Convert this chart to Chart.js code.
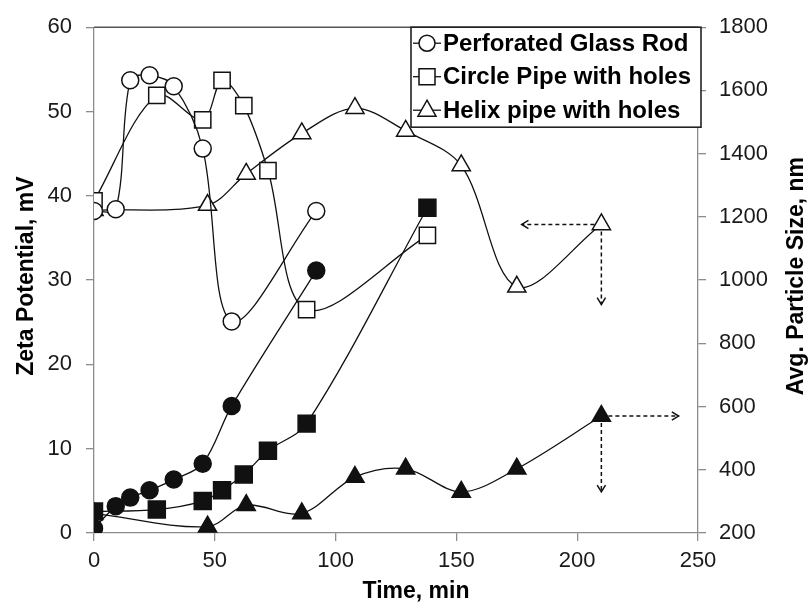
<!DOCTYPE html>
<html>
<head>
<meta charset="utf-8">
<script src="https://cdn.jsdelivr.net/npm/chart.js@4.4.0/dist/chart.umd.min.js"></script>
<style>
  body { margin: 0; background: #fff; }
</style>
</head>
<body>
<canvas id="zeta-chart" width="811" height="605"></canvas>
<script>
// sampling times (min) for each mixer type
const glassTime = [0, 9, 15, 23, 33, 45, 57, 92];
const pipeTime = [0, 26, 45, 53, 62, 72, 88, 138];
const helixTime = [0, 47, 63, 86, 108, 129, 152, 175, 210];

// zeta potential, mV (open markers, left axis)
const glassZeta = [38.2, 38.4, 53.7, 54.3, 53.0, 45.6, 25.1, 38.2];
const pipeZeta = [39.4, 51.9, 49.0, 53.7, 50.7, 43.0, 26.5, 35.3];
const helixZeta = [38.3, 38.9, 42.6, 47.4, 50.4, 47.7, 43.6, 29.2, 36.6];

// average particle size, nm (filled markers, right axis)
const glassSize = [215, 285, 312, 335, 369, 419, 602, 1030];
const pipeSize = [268, 274, 301, 335, 385, 460, 546, 1229];
const helixSize = [262, 220, 288, 262, 377, 403, 330, 403, 570];

const seriesNames = ["Perforated Glass Rod", "Circle Pipe with holes", "Helix pipe with holes"];

// axis ticks
const timeTicks = [0, 50, 100, 150, 200, 250];
const zetaTicks = [0, 10, 20, 30, 40, 50, 60];
const sizeTicks = [200, 400, 600, 800, 1000, 1200, 1400, 1600, 1800];

// dashed pointers for the last helix readings: [time, value, arrow end time, arrow end value]
const zetaPointer = [210, 36.6, 177, 27.1];
const sizePointer = [210, 570, 242, 330];

const ink = "#111";
const fontFamily = "'Liberation Sans', Arial, sans-serif";

function pts(times, values) {
  return times.map((t, i) => ({ x: t, y: values[i] }));
}

function series(label, times, values, axis, style, filled, radius) {
  return {
    label: label,
    data: pts(times, values),
    yAxisID: axis,
    borderColor: ink,
    borderWidth: 1.3,
    tension: 0.33,
    pointStyle: style,
    pointRadius: radius,
    pointHoverRadius: radius,
    pointBorderWidth: 1.5,
    pointBorderColor: ink,
    pointBackgroundColor: filled ? ink : "#fff",
    fill: false,
  };
}

function dashedArrow(ctx, x1, y1, x2, y2) {
  ctx.save();
  ctx.strokeStyle = ink;
  ctx.lineWidth = 1.5;
  ctx.setLineDash([4, 3]);
  ctx.beginPath();
  ctx.moveTo(x1, y1);
  ctx.lineTo(x2, y2);
  ctx.stroke();
  ctx.setLineDash([]);
  const a = Math.atan2(y2 - y1, x2 - x1);
  ctx.beginPath();
  ctx.moveTo(x2 - 8 * Math.cos(a - 0.55), y2 - 8 * Math.sin(a - 0.55));
  ctx.lineTo(x2, y2);
  ctx.lineTo(x2 - 8 * Math.cos(a + 0.55), y2 - 8 * Math.sin(a + 0.55));
  ctx.stroke();
  ctx.restore();
}

const pointers = {
  id: "pointers",
  beforeDatasetsDraw(chart) {
    const ctx = chart.ctx;
    const sx = chart.scales.x;
    [[zetaPointer, chart.scales.y], [sizePointer, chart.scales.y2]].forEach(([p, sy]) => {
      const x = sx.getPixelForValue(p[0]);
      const y = sy.getPixelForValue(p[1]);
      dashedArrow(ctx, x, y, sx.getPixelForValue(p[2]), y);
      dashedArrow(ctx, x, y, x, sy.getPixelForValue(p[3]));
    });
  },
};

// axis titles: both vertical ones read bottom-to-top
const axisTitles = {
  id: "axisTitles",
  afterDraw(chart) {
    const ctx = chart.ctx;
    const area = chart.chartArea;
    const midY = (area.top + area.bottom) / 2;
    ctx.save();
    ctx.font = "bold 23px " + fontFamily;
    ctx.fillStyle = "#000";
    ctx.textAlign = "center";
    ctx.textBaseline = "middle";
    ctx.fillText("Time, min", (area.left + area.right) / 2 + 20, 592);
    [["Zeta Potential, mV", 27], ["Avg. Particle Size, nm", 797]].forEach(([text, x]) => {
      ctx.save();
      ctx.translate(x, midY - 4);
      ctx.rotate(-Math.PI / 2);
      ctx.fillText(text, 0, 0);
      ctx.restore();
    });
    ctx.restore();
  },
};

function legendMarker(ctx, style, x, y) {
  ctx.beginPath();
  if (style === "circle") {
    ctx.arc(x, y, 8, 0, Math.PI * 2);
  } else if (style === "rect") {
    ctx.rect(x - 8, y - 8, 16, 16);
  } else {
    ctx.moveTo(x, y - 10);
    ctx.lineTo(x + 9, y + 6);
    ctx.lineTo(x - 9, y + 6);
    ctx.closePath();
  }
  ctx.fillStyle = "#fff";
  ctx.fill();
  ctx.stroke();
}

// boxed legend sitting in the top-right corner of the plot
const cornerLegend = {
  id: "cornerLegend",
  afterDraw(chart) {
    const ctx = chart.ctx;
    const area = chart.chartArea;
    ctx.save();
    // top frame line
    ctx.strokeStyle = "#555";
    ctx.lineWidth = 1.5;
    ctx.beginPath();
    ctx.moveTo(area.left, area.top);
    ctx.lineTo(area.right, area.top);
    ctx.stroke();

    const x0 = area.right - 287, y0 = area.top, w = 290, h = 100;
    ctx.fillStyle = "#fff";
    ctx.fillRect(x0, y0, w, h);
    ctx.strokeStyle = "#222";
    ctx.lineWidth = 1.6;
    ctx.strokeRect(x0, y0, w, h);

    ctx.font = "bold 24px " + fontFamily;
    ctx.textBaseline = "middle";
    chart.data.datasets.slice(0, 3).forEach((ds, i) => {
      const cy = y0 + 16 + i * 33.5;
      ctx.strokeStyle = ink;
      ctx.lineWidth = 1.3;
      ctx.beginPath();
      ctx.moveTo(x0 + 2, cy);
      ctx.lineTo(x0 + 30, cy);
      ctx.stroke();
      ctx.lineWidth = 1.5;
      legendMarker(ctx, ds.pointStyle, x0 + 16, cy);
      ctx.fillStyle = "#000";
      ctx.fillText(ds.label, x0 + 32, cy + 1);
    });
    ctx.restore();
  },
};

const tickFont = { family: fontFamily, size: 22 };
const axisGrid = { drawOnChartArea: false, drawTicks: true, tickLength: 8, color: "#8c8c8c", lineWidth: 1.3 };
const axisBorder = { color: "#8c8c8c", width: 1.3 };
const plainLabel = (v) => String(v);

new Chart(document.getElementById("zeta-chart"), {
  type: "line",
  data: {
    datasets: [
      series(seriesNames[0], glassTime, glassZeta, "y", "circle", false, 8.5),
      series(seriesNames[1], pipeTime, pipeZeta, "y", "rect", false, 11.5),
      series(seriesNames[2], helixTime, helixZeta, "y", "triangle", false, 10.5),
      series(seriesNames[0], glassTime, glassSize, "y2", "circle", true, 8.5),
      series(seriesNames[1], pipeTime, pipeSize, "y2", "rect", true, 12),
      series(seriesNames[2], helixTime, helixSize, "y2", "triangle", true, 10.5),
    ],
  },
  options: {
    responsive: false,
    animation: false,
    layout: { padding: { top: 23, left: 0, right: 0, bottom: 0 } },
    plugins: {
      legend: { display: false },
      tooltip: { enabled: false },
    },
    scales: {
      x: {
        type: "linear",
        min: timeTicks[0],
        max: timeTicks[timeTicks.length - 1],
        afterBuildTicks: (s) => { s.ticks = timeTicks.map((v) => ({ value: v })); },
        afterFit: (s) => { s.height = 72; },
        grid: axisGrid,
        border: axisBorder,
        ticks: { font: tickFont, color: "#1a1a1a", padding: 7, maxRotation: 0, callback: plainLabel },
      },
      y: {
        position: "left",
        min: zetaTicks[0],
        max: zetaTicks[zetaTicks.length - 1],
        afterBuildTicks: (s) => { s.ticks = zetaTicks.map((v) => ({ value: v })); },
        afterFit: (s) => { s.width = 94; },
        grid: axisGrid,
        border: axisBorder,
        ticks: { font: tickFont, color: "#1a1a1a", padding: 14, callback: plainLabel },
      },
      y2: {
        position: "right",
        min: sizeTicks[0],
        max: sizeTicks[sizeTicks.length - 1],
        afterBuildTicks: (s) => { s.ticks = sizeTicks.map((v) => ({ value: v })); },
        afterFit: (s) => { s.width = 113; },
        grid: axisGrid,
        border: axisBorder,
        ticks: { font: tickFont, color: "#1a1a1a", padding: 13, callback: plainLabel },
      },
    },
  },
  plugins: [pointers, cornerLegend, axisTitles],
});
</script>
</body>
</html>
